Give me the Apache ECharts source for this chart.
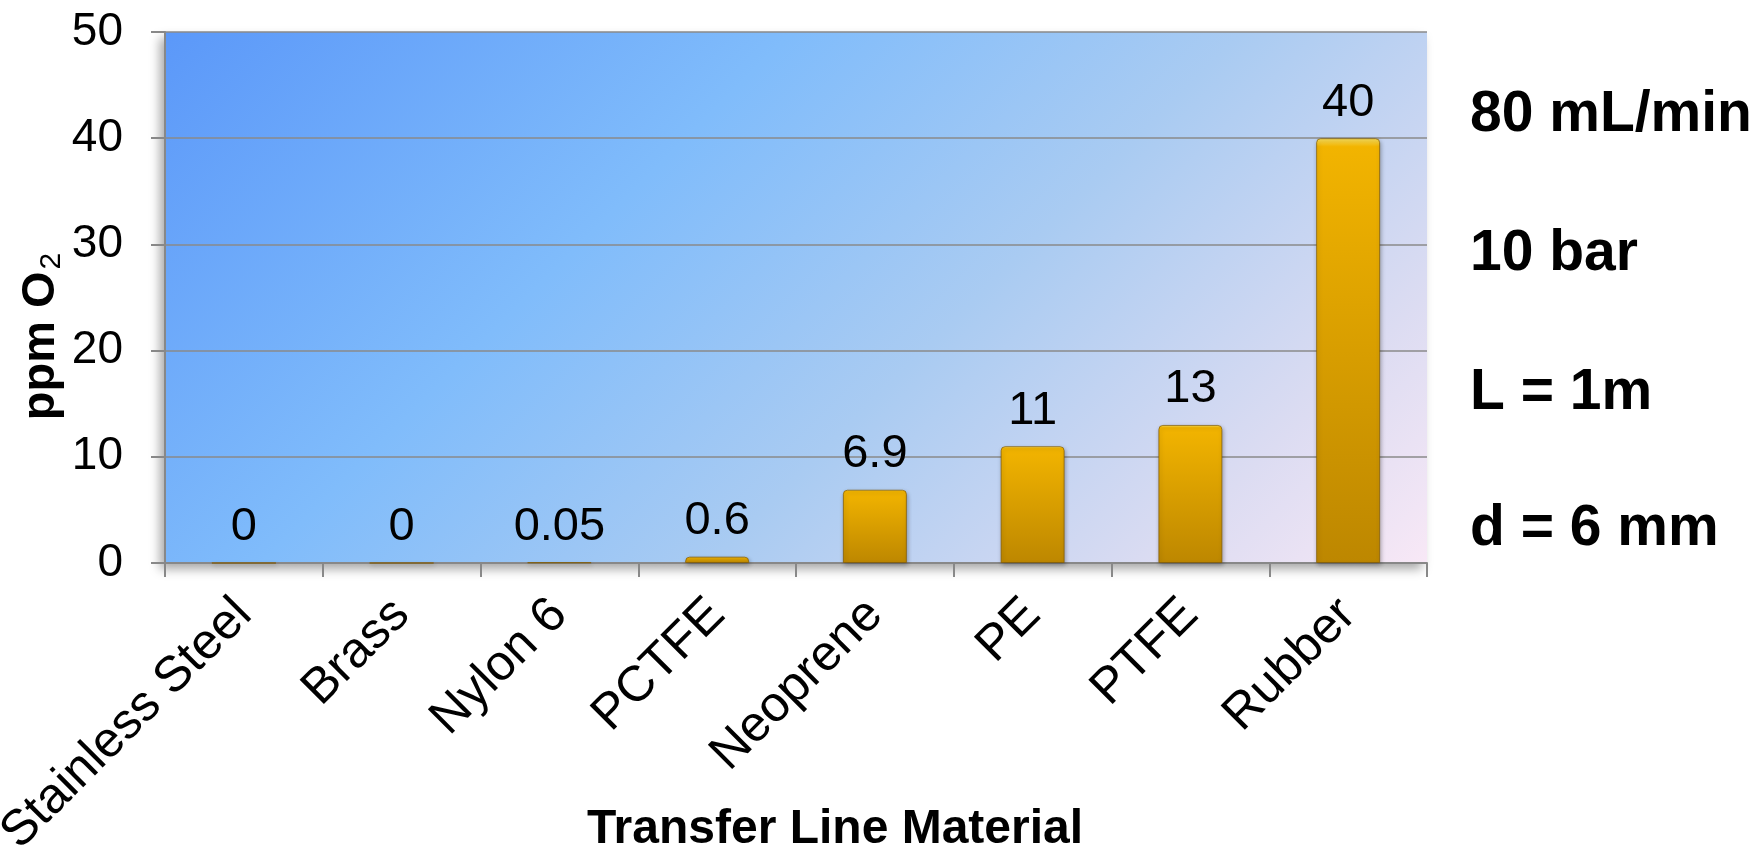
<!DOCTYPE html>
<html>
<head>
<meta charset="utf-8">
<title>Transfer Line Material</title>
<script src="https://cdn.jsdelivr.net/npm/echarts@6/dist/echarts.min.js"></script>
<style>
  html, body { margin: 0; padding: 0; background: #fff; }
  #chart { width: 1756px; height: 848px; }
</style>
</head>
<body>
<div id="chart"></div>
<script>
const categories = ['Stainless Steel', 'Brass', 'Nylon 6', 'PCTFE', 'Neoprene', 'PE', 'PTFE', 'Rubber']
const values = [0, 0, 0.05, 0.6, 6.9, 11, 13, 40]
const yTicks = [0, 10, 20, 30, 40, 50]
const conditions = ['80 mL/min', '10 bar', 'L = 1m', 'd = 6 mm']

const font = "'Liberation Sans', Arial, Helvetica, sans-serif"
const myChart = echarts.init(document.getElementById('chart'))

// right-hand column of test conditions
const condY = [119, 258, 397, 533]
const condText = conditions.map((t, i) => ({
  type: 'text',
  left: 1470,
  top: condY[i] - 32,
  style: {
    text: t,
    fontFamily: font,
    fontSize: 57,
    fontWeight: 'bold',
    fill: '#000'
  }
}))

myChart.setOption({
  animation: false,
  backgroundColor: '#fff',
  textStyle: { fontFamily: font },
  grid: {
    left: 165,
    right: 329,
    top: 32,
    bottom: 285,
    containLabel: false,
    outerBoundsMode: 'none',
    show: true,
    borderWidth: 0,
    backgroundColor: {
      type: 'linear', x: 0, y: 0, x2: 0.71, y2: 1.69,
      colorStops: [
        { offset: 0, color: '#5b98f9' },
        { offset: 0.35, color: '#80bcfb' },
        { offset: 0.6, color: '#a9cbf2' },
        { offset: 0.85, color: '#dcdcf2' },
        { offset: 1, color: '#f8e8f6' }
      ]
    },
    shadowColor: 'rgba(0,0,0,0.35)',
    shadowBlur: 10,
    shadowOffsetX: -5,
    shadowOffsetY: 6
  },
  xAxis: {
    type: 'category',
    data: categories,
    name: 'Transfer Line Material',
    nameLocation: 'middle',
    nameGap: 243,
    nameMoveOverlap: false,
    nameTextStyle: { fontFamily: font, fontSize: 48, fontWeight: 'bold', color: '#000', padding: [0, 0, 0, 78] },
    axisLine: { lineStyle: { color: '#888', width: 2 } },
    axisTick: { show: true, length: 14, lineStyle: { color: '#888', width: 2 } },
    axisLabel: {
      rotate: 45,
      margin: 44,
      fontSize: 50,
      fontFamily: font,
      color: '#000',
      interval: 0
    }
  },
  yAxis: {
    type: 'value',
    min: 0,
    max: 50,
    interval: 10,
    name: '{n|ppm O}{s|2}',
    nameLocation: 'middle',
    nameRotate: 90,
    nameGap: 98,
    nameMoveOverlap: false,
    nameTextStyle: {
      padding: [0, 78, 0, 0],
      rich: {
        n: { fontFamily: font, fontSize: 47, fontWeight: 'bold', color: '#000' },
        s: { fontFamily: font, fontSize: 30, color: '#000', verticalAlign: 'bottom', padding: [22, 0, 0, 2] }
      }
    },
    axisLine: { show: true, lineStyle: { color: '#888', width: 2 } },
    axisTick: { show: true, length: 14, lineStyle: { color: '#888', width: 2 } },
    axisLabel: {
      margin: 42,
      fontSize: 46,
      fontFamily: font,
      color: '#000',
      formatter: (v) => (yTicks.includes(v) ? String(v) : '')
    },
    splitLine: { show: true, lineStyle: { color: '#8a8a8a', width: 1.5 } }
  },
  series: [
    {
      type: 'bar',
      data: values,
      barWidth: 64,
      itemStyle: {
        color: {
          type: 'linear', x: 0, y: 0, x2: 0, y2: 1,
          colorStops: [
            { offset: 0, color: '#f9e060' },
            { offset: 0.02, color: '#f2b400' },
            { offset: 1, color: '#bd8700' }
          ]
        },
        borderColor: 'rgba(130,90,0,0.7)',
        borderWidth: 1,
        borderRadius: [4, 4, 0, 0],
        shadowColor: 'rgba(0,0,0,0.3)',
        shadowBlur: 4,
        shadowOffsetX: 1,
        shadowOffsetY: 2
      },
      label: {
        show: true,
        position: 'top',
        distance: 12,
        fontSize: 47,
        fontFamily: font,
        color: '#000',
        formatter: (p) => String(p.value)
      }
    }
  ],
  graphic: condText
})
</script>
</body>
</html>
